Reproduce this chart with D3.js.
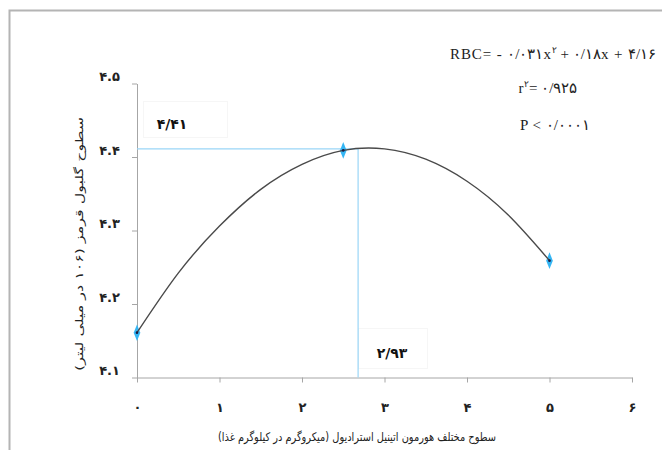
<!DOCTYPE html>
<html>
<head>
<meta charset="utf-8">
<script src="https://cdn.jsdelivr.net/npm/d3@7"></script>
<style>
  html, body { margin: 0; padding: 0; background: #fff; }
  svg { display: block; }
</style>
</head>
<body>
<svg id="chart" width="662" height="450"></svg>
<script>
// ---- data ----
const xTickValues = [0, 1, 2, 3, 4, 5, 6];
const xTickLabels = ["۰", "۱", "۲", "۳", "۴", "۵", "۶"];
const yTickValues = [4.1, 4.2, 4.3, 4.4, 4.5];
const yTickLabels = ["۴.۱", "۴.۲", "۴.۳", "۴.۴", "۴.۵"];
const doses = [0, 2.5, 5];
const rbcValues = [4.161, 4.409, 4.259];
const trendX = [0, 0.5, 1, 1.5, 2, 2.5, 3, 3.5, 4, 4.5, 5];
const trendY = [4.161, 4.242, 4.306, 4.356, 4.390, 4.409, 4.411, 4.397, 4.367, 4.321, 4.259];
const peakLineX = 2.68;
const peakLineY = 4.411;
const peakYLabel = "۴/۴۱";
const peakXLabel = "۲/۹۳";
const xTitle = "سطوح مختلف هورمون اتینیل استرادیول (میکروگرم در کیلوگرم غذا)";
const yTitle = "سطوح گلبول قرمز (۱۰۶ در میلی لیتر)";
const eqLines = ["RBC= - ۰/۰۳۱x", "۲", " +  ۰/۱۸x + ۴/۱۶"];
const r2Text = ["r", "۲", "= ۰/۹۲۵"];
const pText = "P < ۰/۰۰۰۱";

// ---- chart ----
const svg = d3.select("#chart");
const x = d3.scaleLinear().domain([0, 6]).range([137, 632]);
const y = d3.scaleLinear().domain([4.1, 4.5]).range([377.5, 83.5]);

const axisColor = "#a6a6a6";
const digitFont = "'DejaVu Sans', sans-serif";

// outer frame
svg.append("path")
  .attr("d", "M9.5,450 L9.5,10.5 L662,10.5")
  .attr("fill", "none").attr("stroke", "#b4b4b4").attr("stroke-width", 2);

// annotation boxes
svg.append("rect").attr("x", 143.5).attr("y", 101.5).attr("width", 84).attr("height", 36)
  .attr("fill", "#fff").attr("stroke", "#f6f6f6");
svg.append("rect").attr("x", 358.5).attr("y", 328.5).attr("width", 69).attr("height", 40)
  .attr("fill", "#fff").attr("stroke", "#f6f6f6");

// axes
const xAxis = d3.axisBottom(x).tickValues(xTickValues)
  .tickFormat((d, i) => xTickLabels[i]).tickSizeInner(5).tickSizeOuter(0).tickPadding(20);
const gx = svg.append("g").attr("transform", `translate(0,${y(4.1)})`).call(xAxis);
const yAxis = d3.axisLeft(y).tickValues(yTickValues)
  .tickFormat((d, i) => yTickLabels[i]).tickSizeInner(5).tickSizeOuter(0).tickPadding(12);
const gy = svg.append("g").attr("transform", `translate(${x(0)},0)`).call(yAxis);

[gx, gy].forEach(g => {
  g.select(".domain").attr("stroke", axisColor);
  g.selectAll(".tick line").attr("stroke", axisColor);
  g.selectAll(".tick text").attr("fill", "#222")
    .style("font-family", digitFont).style("font-size", "13px").style("font-weight", "bold");
});
gy.selectAll(".tick text").attr("dy", "-0.2em");

// reference lines
svg.append("line")
  .attr("x1", x(0)).attr("x2", x(peakLineX))
  .attr("y1", y(peakLineY)).attr("y2", y(peakLineY))
  .attr("stroke", "#9ad6f7").attr("stroke-width", 1.2);
svg.append("line")
  .attr("x1", x(peakLineX)).attr("x2", x(peakLineX))
  .attr("y1", y(peakLineY)).attr("y2", y(4.1))
  .attr("stroke", "#9ad6f7").attr("stroke-width", 1.2);

// markers
svg.selectAll(".pt").data(doses).enter().append("path")
  .attr("class", "pt")
  .attr("transform", (d, i) => `translate(${x(d)},${y(rbcValues[i])}) scale(0.8,1.15)`)
  .attr("d", d3.symbol().type(d3.symbolDiamond).size(60))
  .attr("fill", "#35b6f4");

// trend curve
const line = d3.line().x(d => x(d[0])).y(d => y(d[1])).curve(d3.curveNatural);
svg.append("path")
  .datum(trendX.map((v, i) => [v, trendY[i]]))
  .attr("d", line)
  .attr("fill", "none").attr("stroke", "#4a4a4a").attr("stroke-width", 1.4);

// small dark centres
svg.selectAll(".dot").data(doses).enter().append("circle")
  .attr("cx", d => x(d)).attr("cy", (d, i) => y(rbcValues[i])).attr("r", 1.3)
  .attr("fill", "#1a1a40");

// annotation labels
svg.append("text").attr("x", 172).attr("y", 129).attr("text-anchor", "middle")
  .style("font-family", digitFont).style("font-size", "14px").style("font-weight", "bold")
  .attr("fill", "#111").text(peakYLabel);
svg.append("text").attr("x", 392).attr("y", 358).attr("text-anchor", "middle")
  .style("font-family", digitFont).style("font-size", "14px").style("font-weight", "bold")
  .attr("fill", "#111").text(peakXLabel);

// axis titles
svg.append("text")
  .attr("x", 357).attr("y", 441)
  .attr("text-anchor", "middle").attr("direction", "rtl")
  .attr("textLength", 278).attr("lengthAdjust", "spacingAndGlyphs")
  .style("font-family", digitFont).style("font-size", "12px").attr("fill", "#222")
  .text(xTitle);
svg.append("text")
  .attr("transform", "translate(83,244) rotate(-90)")
  .attr("text-anchor", "middle").attr("direction", "rtl")
  .attr("textLength", 254).attr("lengthAdjust", "spacingAndGlyphs")
  .style("font-family", digitFont).style("font-size", "11px").attr("fill", "#222")
  .text(yTitle);

// equation block
const serif = "'Liberation Serif', 'DejaVu Serif', serif";
const eq = svg.append("text").attr("x", 450).attr("y", 59)
  .style("font-family", serif).style("font-size", "15px").style("letter-spacing", "0.9px")
  .attr("fill", "#222");
eq.append("tspan").text(eqLines[0]);
eq.append("tspan").attr("dy", -6).style("font-size", "9px").text(eqLines[1]);
eq.append("tspan").attr("dy", 6).text(eqLines[2]);

const r2 = svg.append("text").attr("x", 548).attr("y", 93).attr("text-anchor", "middle")
  .style("font-family", serif).style("font-size", "15px").style("letter-spacing", "0.5px")
  .attr("fill", "#222");
r2.append("tspan").text(r2Text[0]);
r2.append("tspan").attr("dy", -6).style("font-size", "9px").text(r2Text[1]);
r2.append("tspan").attr("dy", 6).text(r2Text[2]);

svg.append("text").attr("x", 555).attr("y", 130).attr("text-anchor", "middle")
  .style("font-family", serif).style("font-size", "15px").style("letter-spacing", "0.5px")
  .attr("fill", "#222")
  .text(pText);
</script>
</body>
</html>
